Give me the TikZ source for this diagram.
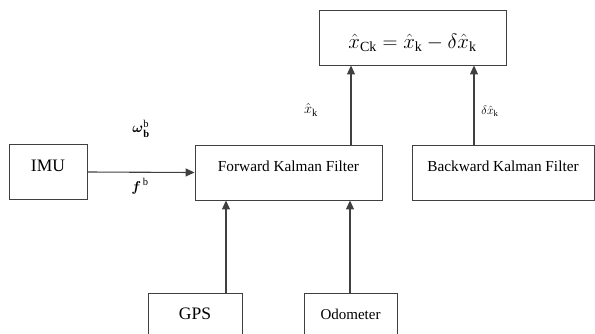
\documentclass[tikz,border=0pt]{standalone}
\usepackage{amsmath,amssymb}
\usepackage{fontspec}
\setmainfont{Liberation Serif}
\usepackage{tikz}
\usepackage{xcolor}
\usetikzlibrary{arrows.meta}

\begin{document}
\begin{tikzpicture}[x=1pt,y=-1pt,
  box/.style={draw=black!75,line width=0.9pt,minimum height=55pt,inner sep=0pt,
    font=\fontsize{15.3}{18}\selectfont,text height=11pt,text depth=13pt},
  arr/.style={draw=black!75,line width=1.1pt,-{Triangle[length=9pt,width=8pt]}}]
\useasboundingbox (0,0) rectangle (595,333);
\node[box,minimum width=78pt,font=\fontsize{17.5}{20}\selectfont] (imu) at (48,172) {IMU};
\node[box,minimum width=187pt] (fwd) at (288.5,172.5) {Forward Kalman Filter};
\node[box,minimum width=182pt] (bwd) at (503,172.5) {Backward Kalman Filter};
\node[box,minimum width=187pt,font=\fontsize{20}{24}\selectfont,text height=27pt,text depth=5pt] (corr) at (412.5,37.5)
  {$\hat{x}_{\mathrm{Ck}}=\hat{x}_{\mathrm{k}}-\delta\hat{x}_{\mathrm{k}}$};
\node[box,minimum width=94pt,minimum height=54pt,font=\fontsize{17.5}{20}\selectfont] (gps) at (195,320) {GPS};
\node[box,minimum width=93pt,minimum height=54pt,font=\fontsize{15}{18}\selectfont] (odo) at (350.5,320) {Odometer};
% labels
\node[font=\fontsize{15}{17}\selectfont] (om) at (141,129) {$\boldsymbol{\omega}_{\mathbf{b}}^{\mathrm{b}}$};
\node[font=\fontsize{15}{17}\selectfont] (fb) at (140,186) {$\boldsymbol{f}^{\,\mathrm{b}}$};
\node[font=\fontsize{15}{17}\selectfont] (xk) at (311,110) {$\hat{x}_{\mathrm{k}}$};
\node[font=\fontsize{12.5}{14}\selectfont] (dxk) at (490,111) {$\delta\hat{x}_{\mathrm{k}}$};
% connectors
\draw[arr] (imu.east)--(fwd.west);
\draw[arr] (fwd.north -| 351,0)--(corr.south -| 351,0);
\draw[arr] (bwd.north -| 474,0)--(corr.south -| 474,0);
\draw[arr] (gps.north -| 226,0)--(fwd.south -| 226,0);
\draw[arr] (odo.north -| 350,0)--(fwd.south -| 350,0);
\end{tikzpicture}
\end{document}
